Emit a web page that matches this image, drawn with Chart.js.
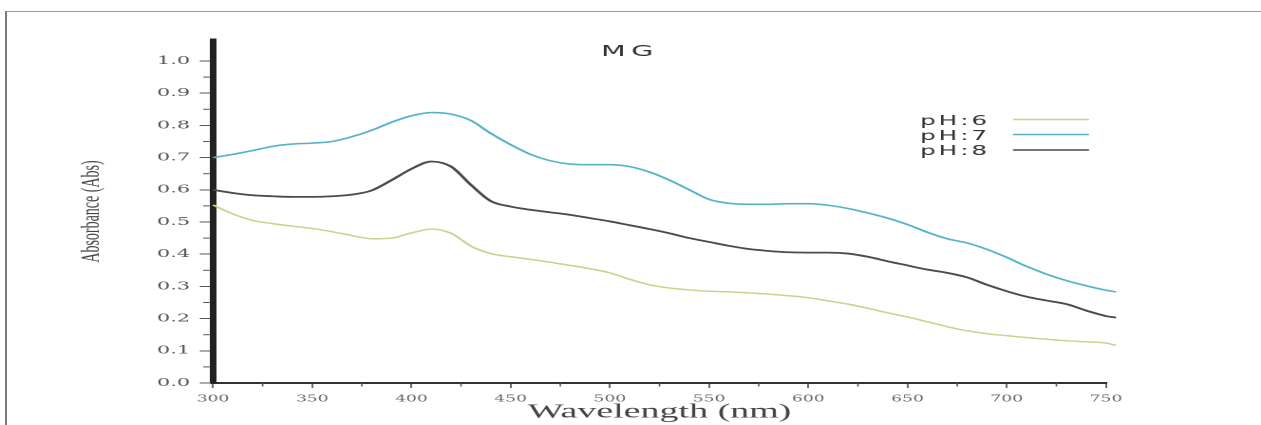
<!DOCTYPE html>
<html>
<head>
<meta charset="utf-8">
<script src="https://cdn.jsdelivr.net/npm/chart.js@4.4.1/dist/chart.umd.min.js"></script>
<style>
  html, body { margin: 0; padding: 0; background: #fff; overflow: hidden; }
  #frame { position: absolute; left: 5px; top: 11px; width: 1260px; height: 420px;
           border-top: 1.5px solid #9a9a9a; border-left: 2px solid #7a7a7a; }
  /* the original figure is stretched horizontally, so draw narrow and stretch */
  #wrap { position: absolute; left: 0; top: 0; width: 664px; height: 425px;
          transform: scaleX(1.89910); transform-origin: 0 0; }
</style>
</head>
<body>
<div id="frame"></div>
<div id="wrap"><canvas id="spectra"></canvas></div>
<script>
const S = 1261 / 664; // horizontal stretch

const wavelengths = [300, 310, 320, 330, 340, 350, 360, 370, 380, 390, 400, 410, 420, 430, 440, 450,
  460, 470, 480, 490, 500, 510, 520, 530, 540, 550, 560, 570, 580, 590, 600, 610, 620, 630, 640, 650,
  660, 670, 680, 690, 700, 710, 720, 730, 740, 750, 755];

const ph6 = [0.553, 0.525, 0.505, 0.495, 0.487, 0.480, 0.470, 0.458, 0.448, 0.450, 0.466, 0.478, 0.465,
  0.425, 0.402, 0.392, 0.384, 0.375, 0.365, 0.355, 0.342, 0.322, 0.305, 0.295, 0.289, 0.285, 0.283,
  0.280, 0.276, 0.271, 0.265, 0.255, 0.245, 0.232, 0.218, 0.205, 0.190, 0.175, 0.162, 0.153, 0.147,
  0.141, 0.136, 0.131, 0.128, 0.124, 0.117];

const ph7 = [0.700, 0.710, 0.722, 0.735, 0.742, 0.745, 0.750, 0.765, 0.785, 0.810, 0.830, 0.840, 0.835,
  0.815, 0.775, 0.740, 0.710, 0.690, 0.680, 0.678, 0.678, 0.672, 0.655, 0.630, 0.600, 0.570, 0.558,
  0.555, 0.555, 0.557, 0.557, 0.552, 0.542, 0.528, 0.512, 0.492, 0.468, 0.448, 0.435, 0.415, 0.390,
  0.362, 0.338, 0.318, 0.302, 0.288, 0.283];

const ph8 = [0.600, 0.590, 0.583, 0.580, 0.578, 0.578, 0.580, 0.585, 0.598, 0.630, 0.665, 0.688, 0.672,
  0.615, 0.565, 0.548, 0.538, 0.530, 0.522, 0.512, 0.502, 0.490, 0.478, 0.465, 0.450, 0.438, 0.426,
  0.416, 0.410, 0.406, 0.405, 0.405, 0.402, 0.392, 0.378, 0.365, 0.352, 0.342, 0.328, 0.305, 0.285,
  0.268, 0.256, 0.245, 0.225, 0.208, 0.203];

const seriesNames = ['pH:6', 'pH:7', 'pH:8'];
const seriesColors = ['#cfcf8e', '#55b3c8', '#4a4a4a'];

const yTickValues = [0, 0.1, 0.2, 0.3, 0.4, 0.5, 0.6, 0.7, 0.8, 0.9, 1.0];
const yTickLabels = ['0.0', '0.1', '0.2', '0.3', '0.4', '0.5', '0.6', '0.7', '0.8', '0.9', '1.0'];
const yMinorTicks = [0.05, 0.15, 0.25, 0.35, 0.45, 0.55, 0.65, 0.75, 0.85, 0.95];
const xTickValues = [300, 350, 400, 450, 500, 550, 600, 650, 700, 750];
const xTickLabels = ['300', '350', '400', '450', '500', '550', '600', '650', '700', '750'];
const xMinorTicks = [325, 375, 425, 475, 525, 575, 625, 675, 725];

const toPoints = vals => vals.map((v, i) => ({ x: wavelengths[i], y: v }));

// title, legend and minor ticks
const overlay = {
  id: 'overlay',
  afterDraw(chart) {
    const ctx = chart.ctx;
    const xs = chart.scales.x, ys = chart.scales.y;
    ctx.save();
    ctx.strokeStyle = '#555';
    ctx.lineWidth = 1;
    yMinorTicks.forEach(v => {
      const py = ys.getPixelForValue(v);
      ctx.beginPath();
      ctx.moveTo(ys.right - 1.8, py);
      ctx.lineTo(ys.right - 5.2, py);
      ctx.stroke();
    });
    ctx.lineWidth = 0.8;
    xMinorTicks.forEach(v => {
      const px = xs.getPixelForValue(v);
      ctx.beginPath();
      ctx.moveTo(px, xs.top);
      ctx.lineTo(px, xs.top + 3.5);
      ctx.stroke();
    });

    // title
    ctx.fillStyle = '#333';
    ctx.textBaseline = 'alphabetic';
    ctx.textAlign = 'left';
    ctx.font = '15px "DejaVu Sans"';
    ctx.letterSpacing = '3px';
    ctx.fillText('MG', 601 / S, 56);

    // legend: text, then line
    ctx.font = '13px "DejaVu Sans"';
    ctx.letterSpacing = '1.5px';
    const baseY = [125, 140, 155];
    const lineY = [119.5, 134.5, 150];
    chart.data.datasets.forEach((ds, i) => {
      const w = ctx.measureText(ds.label).width - 1.5;
      ctx.fillStyle = '#333';
      ctx.fillText(ds.label, 987 / S - w, baseY[i]);
      ctx.strokeStyle = ds.borderColor;
      ctx.lineWidth = 1.6;
      ctx.beginPath();
      ctx.moveTo(1013 / S, lineY[i]);
      ctx.lineTo(1089 / S, lineY[i]);
      ctx.stroke();
    });
    ctx.restore();
  }
};

new Chart(document.getElementById('spectra'), {
  type: 'line',
  data: {
    datasets: seriesNames.map((name, i) => ({
      label: name,
      data: toPoints([ph6, ph7, ph8][i]),
      borderColor: seriesColors[i],
      borderWidth: [1.5, 1.6, 1.8][i],
      pointRadius: 0,
      fill: false,
      cubicInterpolationMode: 'monotone',
      clip: false
    }))
  },
  options: {
    responsive: true,
    maintainAspectRatio: false,
    animation: false,
    devicePixelRatio: 2,
    layout: { padding: { left: 0, right: 664 - 1106 / S, top: 40, bottom: 0 } },
    plugins: {
      legend: { display: false },
      title: { display: false },
      tooltip: { enabled: false }
    },
    scales: {
      x: {
        type: 'linear',
        // axis stops at 750 while the traces run on to 755
        afterDataLimits: s => { s.min = 300; s.max = 750; },
        afterFit: s => { s.height = 42; },
        afterBuildTicks: s => { s.ticks = xTickValues.map(v => ({ value: v })); },
        grid: { drawOnChartArea: false, tickLength: 5, tickColor: '#444', tickWidth: 0.8 },
        border: { color: '#333', width: 2 },
        ticks: {
          callback: (v, i) => xTickLabels[i],
          color: '#666',
          padding: 6,
          maxRotation: 0,
          font: { family: '"DejaVu Serif"', size: 9 }
        },
        title: {
          display: true,
          text: 'Wavelength (nm)',
          color: '#444',
          font: { family: '"Liberation Serif"', size: 20 },
          padding: { top: 0, bottom: 1 }
        }
      },
      y: {
        min: 0,
        max: (383 - 40) / 322,
        afterFit: s => { s.width = 213 / S; },
        afterBuildTicks: s => { s.ticks = yTickValues.map(v => ({ value: v })); },
        grid: { drawOnChartArea: false, tickLength: 7, tickColor: '#555', tickWidth: 1 },
        border: { color: '#222', width: 3.5 },
        ticks: {
          callback: (v, i) => yTickLabels[i],
          color: '#555',
          padding: 5,
          font: { family: '"DejaVu Serif"', size: 11 }
        },
        title: {
          display: true,
          text: 'Absorbance (Abs)',
          color: '#444',
          font: { family: '"Liberation Serif"', size: 14 },
          padding: { top: 40, bottom: 40 }
        }
      }
    }
  },
  plugins: [overlay]
});
</script>
</body>
</html>
